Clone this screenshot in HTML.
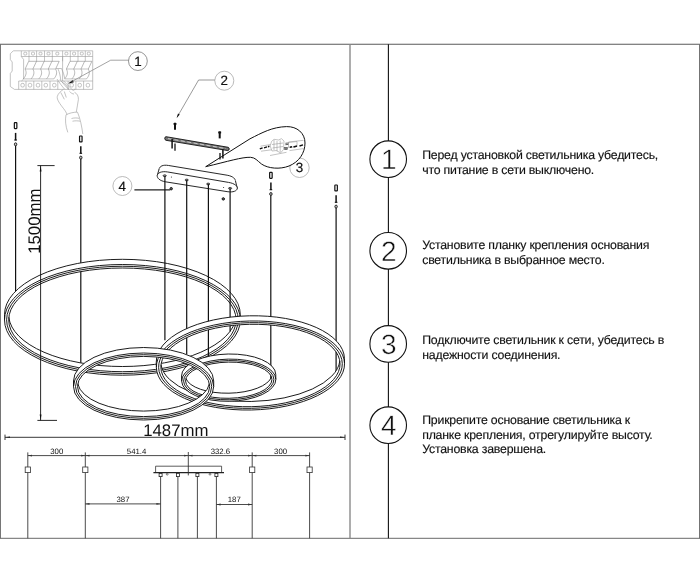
<!DOCTYPE html>
<html lang="ru"><head><meta charset="utf-8"><title>Инструкция по установке светильника</title>
<style>
html,body{margin:0;padding:0;background:#fff;}
body{width:700px;height:583px;overflow:hidden;position:relative;font-family:"Liberation Sans", sans-serif;}
svg{position:absolute;left:0;top:0;display:block;}
text{font-family:"Liberation Sans", sans-serif;text-rendering:geometricPrecision;}
svg{opacity:0.999;will-change:transform;}
.k{stroke:#111;fill:none;}
.g{stroke:#9a9a9a;fill:none;stroke-width:0.6;}
.dim{stroke:#2a2a2a;fill:none;stroke-width:0.85;}
.ring{stroke:#111;stroke-width:0.95;fill:none;}
.wire{stroke:#111;stroke-width:1.2;fill:none;}
.step{font-size:12.3px;fill:#111;letter-spacing:-0.2px;stroke:#111;stroke-width:0.15px;}
.num{font-size:28px;fill:#111;text-anchor:middle;stroke:#fff;stroke-width:0.5px;}
.cn{font-size:13.4px;fill:#111;text-anchor:middle;stroke:#111;stroke-width:0.2px;}
.d{font-size:7.8px;fill:#111;text-anchor:middle;}
.big{font-size:16.8px;fill:#111;}
</style></head><body>
<svg width="700" height="583" viewBox="0 0 700 583">
<rect x="0" y="0" width="700" height="583" fill="#fff"/>
<g id="frame">
<line x1="0" y1="44.3" x2="700" y2="44.3" stroke="#5a5a5a" stroke-width="1.1"/>
<line x1="0" y1="538.3" x2="700" y2="538.3" stroke="#6a6a6a" stroke-width="1"/>
<line x1="0.4" y1="44.3" x2="0.4" y2="538.3" stroke="#666" stroke-width="1"/>
<line x1="699.6" y1="44.3" x2="699.6" y2="538.3" stroke="#666" stroke-width="1"/>
<line x1="350" y1="44.3" x2="350" y2="538.3" stroke="#8a8a8a" stroke-width="1.4"/>
<line x1="388.4" y1="44.3" x2="388.4" y2="538.3" stroke="#111" stroke-width="1.1"/>
</g>
<g id="steps">
<circle cx="388.2" cy="159.2" r="18.3" fill="#fff" stroke="#111" stroke-width="1.1"/>
<text class="num" x="388.9" y="168.9">1</text>
<text class="step" x="422.2" y="158.90">Перед установкой светильника убедитесь,</text>
<text class="step" x="422.2" y="173.62">что питание в сети выключено.</text>
<circle cx="388.2" cy="250.8" r="18.3" fill="#fff" stroke="#111" stroke-width="1.1"/>
<text class="num" x="388.9" y="260.5">2</text>
<text class="step" x="422.2" y="248.80">Установите планку крепления основания</text>
<text class="step" x="422.2" y="263.52">светильника в выбранное место.</text>
<circle cx="388.2" cy="343.9" r="18.3" fill="#fff" stroke="#111" stroke-width="1.1"/>
<text class="num" x="388.9" y="353.6">3</text>
<text class="step" x="422.2" y="343.80">Подключите светильник к сети, убедитесь в</text>
<text class="step" x="422.2" y="358.52">надежности соединения.</text>
<circle cx="388.2" cy="425.2" r="18.3" fill="#fff" stroke="#111" stroke-width="1.1"/>
<text class="num" x="388.9" y="434.9">4</text>
<text class="step" x="422.2" y="423.80">Прикрепите основание светильника к</text>
<text class="step" x="422.2" y="438.52">планке крепления, отрегулируйте высоту.</text>
<text class="step" x="422.2" y="453.24">Установка завершена.</text>
</g>
<g id="callouts">
<circle cx="137.9" cy="61.1" r="9.4" fill="#fff" stroke="#666" stroke-width="0.7"/>
<text class="cn" x="137.9" y="65.6">1</text>
<path d="M128.500 60.200H110.700L69.500 82.800" stroke="#666" stroke-width="0.600" fill="none"/>
<path d="M68 83.700L72.500 79.900L73.900 82.200Z" fill="#111"/>
<circle cx="224.3" cy="80.7" r="9.500" fill="#fff" stroke="#aaa" stroke-width="0.800"/>
<text class="cn" x="224.3" y="85.2">2</text>
<path d="M214.8 80H198.6L177.2 117" stroke="#555" stroke-width="0.6" fill="none"/>
<path d="M176.6 118.2L178 113.6L179.7 114.6Z" fill="#111"/>
<circle cx="299.5" cy="167.8" r="9.700" fill="#fff" stroke="#aaa" stroke-width="0.800"/>
<text class="cn" x="299.5" y="172.3">3</text>
<circle cx="122.400" cy="186" r="9.500" fill="#fff" stroke="#aaa" stroke-width="0.800"/>
<text class="cn" x="122.300" y="190.800">4</text>
<line x1="134.400" y1="189.900" x2="170.200" y2="189.900" stroke="#222" stroke-width="1.100"/>
</g>
<g id="bubble">
<path d="M205.7 166.7 L250 138.8 C262 132.8 272 127 286.6 126.6 C297 126.4 305 133 305 143 C305 153 299 162 289 166 C280 169.6 268 168.6 261.5 164 C257 160.6 255.5 157.6 250.5 157.3 C242 157 228 161.4 205.7 166.7Z" fill="#fff" stroke="#111" stroke-width="1"/>
<g class="g" stroke="#aaa">
<path d="M260.500 146.200L270.500 144.500M261 151.200L271.500 149.800M288.500 142L303.500 140.300M289.500 150.600L303.500 148.600M270 155.500L286.500 152.300"/>
<path d="M271.500 141.500L274 139.300L278.500 140L281.500 138.700L284 141L283.500 149.500L280.500 153L276.500 150.500L272 151L270.200 146Z"/>
<path d="M274 140v10M277 141v10.500M280.200 140.500v11.500M272 144.500l11-1.500M272.500 148l10.500-1.500"/>
<path d="M288.500 142.500l8.500-1v5l-8.500 1z"/>
</g>
<path d="M259.800 148.900L262.600 147.900M264 147.800L267 146.800M267.900 146.700L269.400 146.300M289.800 147.300L292 146.800M293.500 147L297 146M299.500 146L303 144.900" stroke="#111" stroke-width="1.400" fill="none"/>
<path d="M285.400 143.300L288.600 143M285.400 144.700L288.300 144.400" stroke="#333" stroke-width="0.800" fill="none"/>
<rect x="284.600" y="147.300" width="2.800" height="2.400" fill="#777" stroke="#444" stroke-width="0.500"/>
</g>
<g id="bar">
<path d="M166 136.700L228.200 147.300C229.600 147.700 229.600 150.400 227.900 150.600L166 140.300C164.300 139.900 164.300 136.800 166 136.700Z" fill="#777" stroke="#111" stroke-width="0.900"/>
<path d="M168 138.600L226 148.600" stroke="#eee" stroke-width="0.700" stroke-dasharray="4 2.500"/>
<line x1="172.1" y1="139.0" x2="172.1" y2="148.6" stroke="#111" stroke-width="1.5"/>
<line x1="175.0" y1="143.6" x2="175.0" y2="150.8" stroke="#111" stroke-width="1.3"/>
<line x1="222.9" y1="149.0" x2="222.9" y2="158.6" stroke="#111" stroke-width="1.5"/>
<line x1="220.0" y1="152.9" x2="220.0" y2="159.4" stroke="#111" stroke-width="1.3"/>
<line x1="175.0" y1="122.8" x2="175.0" y2="129.8" stroke="#111" stroke-width="2"/>
<line x1="175.0" y1="123.0" x2="175.0" y2="124.8" stroke="#111" stroke-width="2.900"/>
<line x1="219.7" y1="131.4" x2="219.7" y2="138.4" stroke="#111" stroke-width="2"/>
<line x1="219.7" y1="131.6" x2="219.7" y2="133.4" stroke="#111" stroke-width="2.900"/>
</g>
<g id="canopy">
<path d="M168.500 165.470L227.200 175.230C238.950 177.180 237.650 186.490 225.900 184.540L167.200 174.860C155.850 172.960 157.150 163.570 168.500 165.470Z" fill="#fff" stroke="#111" stroke-width="0.9"/>
<path d="M159.300 168.300L157.300 175.200L237.300 189L235.500 180.600Z" fill="#fff" stroke="none"/>
<path d="M159.250 168.600L157.250 175.400M235.450 180.800L237.350 188.600" fill="none" stroke="#111" stroke-width="0.9"/>
<path d="M167.500 171.950L228.500 182.400C241.100 184.400 239.700 193.640 227.100 191.640L165.800 181.860C153.300 179.860 155 169.950 167.500 171.950Z" fill="#fff" stroke="#111" stroke-width="0.9"/>
<ellipse cx="164.7" cy="175.7" rx="1.6" ry="0.9" fill="#999" stroke="#111" stroke-width="0.7"/>
<ellipse cx="186.7" cy="180.0" rx="1.6" ry="0.9" fill="#999" stroke="#111" stroke-width="0.7"/>
<ellipse cx="208.2" cy="184.0" rx="1.6" ry="0.9" fill="#999" stroke="#111" stroke-width="0.7"/>
<ellipse cx="230.1" cy="188.3" rx="1.6" ry="0.9" fill="#999" stroke="#111" stroke-width="0.7"/>
<circle cx="171.4" cy="177.0" r="0.5" fill="#111"/>
<circle cx="223.6" cy="187.4" r="0.5" fill="#111"/>
<circle cx="171.2" cy="188.7" r="1.200" fill="#666" stroke="#111" stroke-width="1"/>
<circle cx="223.3" cy="198.9" r="1.200" fill="#666" stroke="#111" stroke-width="1"/>
</g>
<g id="pendant">
<rect x="14.35" y="122.70" width="2.500" height="5.900" rx="0.500" fill="#fff" stroke="#111" stroke-width="1.200"/>
<line x1="15.60" y1="132.90" x2="15.60" y2="140.30" stroke="#111" stroke-width="1.500"/>
<line x1="14.30" y1="140.00" x2="16.90" y2="140.00" stroke="#111" stroke-width="1.100"/>
<ellipse cx="15.60" cy="144.30" rx="1.200" ry="1.500" fill="#ccc" stroke="#111" stroke-width="0.900"/>
<rect x="79.55" y="136.00" width="2.500" height="5.900" rx="0.500" fill="#fff" stroke="#111" stroke-width="1.200"/>
<line x1="80.80" y1="146.20" x2="80.80" y2="153.60" stroke="#111" stroke-width="1.500"/>
<line x1="79.50" y1="153.30" x2="82.10" y2="153.30" stroke="#111" stroke-width="1.100"/>
<ellipse cx="80.80" cy="157.60" rx="1.200" ry="1.500" fill="#ccc" stroke="#111" stroke-width="0.900"/>
<rect x="269.65" y="172.40" width="2.500" height="5.900" rx="0.500" fill="#fff" stroke="#111" stroke-width="1.200"/>
<line x1="270.90" y1="182.60" x2="270.90" y2="190.00" stroke="#111" stroke-width="1.500"/>
<line x1="269.60" y1="189.70" x2="272.20" y2="189.70" stroke="#111" stroke-width="1.100"/>
<ellipse cx="270.90" cy="194.00" rx="1.200" ry="1.500" fill="#ccc" stroke="#111" stroke-width="0.900"/>
<rect x="334.85" y="185.00" width="2.500" height="5.900" rx="0.500" fill="#fff" stroke="#111" stroke-width="1.200"/>
<line x1="336.10" y1="195.20" x2="336.10" y2="202.60" stroke="#111" stroke-width="1.500"/>
<line x1="334.80" y1="202.30" x2="337.40" y2="202.30" stroke="#111" stroke-width="1.100"/>
<ellipse cx="336.10" cy="206.60" rx="1.200" ry="1.500" fill="#ccc" stroke="#111" stroke-width="0.900"/>
<line class="wire" x1="15.60" y1="145.80" x2="15.60" y2="291.50"/>
<line class="wire" x1="80.80" y1="159.10" x2="80.80" y2="363.50"/>
<g id="ring1">
<path d="M4.50 319.85V314.65A117.90 55.35 0 0 1 240.30 314.65V319.85A117.90 55.35 0 0 1 4.50 319.85ZM8.84 317.25A113.70 51.85 0 0 1 235.96 317.25A113.70 51.85 0 0 1 8.84 317.25Z" fill="#fff" fill-rule="evenodd" stroke="none"/>
<path class="ring" d="M4.50 319.85V314.65A117.90 55.35 0 0 1 240.30 314.65V319.85A117.90 55.35 0 0 1 4.50 319.85Z"/>
<path class="ring" d="M4.50 319.85A117.90 55.35 0 0 1 240.30 319.85"/>
<ellipse class="ring" cx="122.40" cy="319.85" rx="115.80" ry="53.60"/>
<ellipse class="ring" cx="122.40" cy="319.85" rx="113.70" ry="51.85"/>
<path class="ring" d="M235.96 317.25A113.70 51.85 0 0 1 8.84 317.25"/>
</g>
<line class="wire" x1="186.70" y1="180.30" x2="186.70" y2="354.50"/>
<line class="wire" x1="208.40" y1="184.30" x2="208.40" y2="356.20"/>
<line class="wire" x1="230.10" y1="188.60" x2="230.10" y2="331.50"/>
<line class="wire" x1="270.80" y1="195.50" x2="270.80" y2="380.50"/>
<line class="wire" x1="336.10" y1="208.10" x2="336.10" y2="372.00"/>
<g id="ring2" transform="rotate(-1.20 250.40 362.90)">
<path d="M156.30 365.50V360.30A94.10 44.50 0 0 1 344.50 360.30V365.50A94.10 44.50 0 0 1 156.30 365.50ZM160.98 362.90A89.60 41.20 0 0 1 339.82 362.90A89.60 41.20 0 0 1 160.98 362.90Z" fill="#fff" fill-rule="evenodd" stroke="none"/>
<path class="ring" d="M156.30 365.50V360.30A94.10 44.50 0 0 1 344.50 360.30V365.50A94.10 44.50 0 0 1 156.30 365.50Z"/>
<path class="ring" d="M156.30 365.50A94.10 44.50 0 0 1 344.50 365.50"/>
<ellipse class="ring" cx="250.40" cy="365.50" rx="91.85" ry="42.85"/>
<ellipse class="ring" cx="250.40" cy="365.50" rx="89.60" ry="41.20"/>
<path class="ring" d="M339.82 362.90A89.60 41.20 0 0 1 160.98 362.90"/>
</g>
<line class="wire" x1="164.90" y1="176.00" x2="164.90" y2="340.20"/>
<g id="ring4" transform="rotate(-1.10 228.70 377.65)">
<path d="M181.60 380.20V375.10A47.10 21.10 0 0 1 275.80 375.10V380.20A47.10 21.10 0 0 1 181.60 380.20ZM185.93 377.65A43.20 18.10 0 0 1 271.47 377.65A43.20 18.10 0 0 1 185.93 377.65Z" fill="#fff" fill-rule="evenodd" stroke="none"/>
<path class="ring" d="M181.60 380.20V375.10A47.10 21.10 0 0 1 275.80 375.10V380.20A47.10 21.10 0 0 1 181.60 380.20Z"/>
<path class="ring" d="M181.60 380.20A47.10 21.10 0 0 1 275.80 380.20"/>
<ellipse class="ring" cx="228.70" cy="380.20" rx="45.15" ry="19.60"/>
<ellipse class="ring" cx="228.70" cy="380.20" rx="43.20" ry="18.10"/>
<path class="ring" d="M271.47 377.65A43.20 18.10 0 0 1 185.93 377.65"/>
</g>
<g id="ring3">
<path d="M73.50 386.50V381.00A70.10 33.50 0 0 1 213.70 381.00V386.50A70.10 33.50 0 0 1 73.50 386.50ZM77.78 383.75A66.10 30.10 0 0 1 209.42 383.75A66.10 30.10 0 0 1 77.78 383.75Z" fill="#fff" fill-rule="evenodd" stroke="none"/>
<path class="ring" d="M73.50 386.50V381.00A70.10 33.50 0 0 1 213.70 381.00V386.50A70.10 33.50 0 0 1 73.50 386.50Z"/>
<path class="ring" d="M73.50 386.50A70.10 33.50 0 0 1 213.70 386.50"/>
<ellipse class="ring" cx="143.60" cy="386.50" rx="68.10" ry="31.80"/>
<ellipse class="ring" cx="143.60" cy="386.50" rx="66.10" ry="30.10"/>
<path class="ring" d="M209.42 383.75A66.10 30.10 0 0 1 77.78 383.75"/>
</g>
</g>
<g id="dim1500">
<line x1="40.600" y1="165.600" x2="40.600" y2="420.400" stroke="#111" stroke-width="0.9"/>
<line x1="37.4" y1="165.6" x2="54.6" y2="165.6" stroke="#111" stroke-width="0.9"/>
<line x1="37.4" y1="420.4" x2="57" y2="420.4" stroke="#111" stroke-width="0.9"/>
<path d="M40.600 165.800L39.700 171.500L41.500 171.500Z" fill="#111"/>
<path d="M40.600 420.200L39.700 414.500L41.500 414.500Z" fill="#111"/>
<text class="big" transform="translate(39.800 253.800) rotate(-90)">1500mm</text>
</g>
<g id="dim1487">
<line x1="5" y1="437.3" x2="345" y2="437.3" stroke="#222" stroke-width="0.9"/>
<line x1="5" y1="434.6" x2="5" y2="440" stroke="#222" stroke-width="0.9"/>
<line x1="345" y1="434.6" x2="345" y2="440" stroke="#222" stroke-width="0.9"/>
<path d="M5.2 437.3L10 436.5L10 438.1Z" fill="#222"/>
<path d="M344.8 437.3L340 436.5L340 438.1Z" fill="#222"/>
<text class="big" x="143.2" y="435.6">1487mm</text>
</g>
<g id="elev">
<line class="dim" x1="27.8" y1="452.4" x2="27.8" y2="538.3"/>
<rect x="25.2" y="467" width="5.2" height="5.6" fill="#fff" stroke="#333" stroke-width="0.8"/>
<line class="dim" x1="85.3" y1="452.4" x2="85.3" y2="538.3"/>
<rect x="82.7" y="467" width="5.2" height="5.6" fill="#fff" stroke="#333" stroke-width="0.8"/>
<line class="dim" x1="252.2" y1="452.4" x2="252.2" y2="538.3"/>
<rect x="249.6" y="467" width="5.2" height="5.6" fill="#fff" stroke="#333" stroke-width="0.8"/>
<line class="dim" x1="309.6" y1="452.4" x2="309.6" y2="538.3"/>
<rect x="307.0" y="467" width="5.2" height="5.6" fill="#fff" stroke="#333" stroke-width="0.8"/>
<line class="dim" x1="27.8" y1="455.6" x2="85.3" y2="455.6"/>
<path d="M27.8 455.6l4.2 -0.9v1.8z" fill="#333"/>
<path d="M85.3 455.6l-4.2 -0.9v1.8z" fill="#333"/>
<line class="dim" x1="85.3" y1="455.6" x2="188.3" y2="455.6"/>
<path d="M85.3 455.6l4.2 -0.9v1.8z" fill="#333"/>
<path d="M188.3 455.6l-4.2 -0.9v1.8z" fill="#333"/>
<line class="dim" x1="188.3" y1="455.6" x2="252.2" y2="455.6"/>
<path d="M188.3 455.6l4.2 -0.9v1.8z" fill="#333"/>
<path d="M252.2 455.6l-4.2 -0.9v1.8z" fill="#333"/>
<line class="dim" x1="252.2" y1="455.6" x2="309.6" y2="455.6"/>
<path d="M252.2 455.6l4.2 -0.9v1.8z" fill="#333"/>
<path d="M309.6 455.6l-4.2 -0.9v1.8z" fill="#333"/>
<line class="dim" x1="85.3" y1="503.9" x2="160.6" y2="503.9"/>
<path d="M85.3 503.9l4.2 -0.9v1.8z" fill="#333"/>
<path d="M160.6 503.9l-4.2 -0.9v1.8z" fill="#333"/>
<line class="dim" x1="216.4" y1="504.5" x2="252.2" y2="504.5"/>
<path d="M216.4 504.5l4.2 -0.9v1.8z" fill="#333"/>
<path d="M252.2 504.5l-4.2 -0.9v1.8z" fill="#333"/>
<text class="d" x="56.8" y="453.6">300</text>
<text class="d" x="136.6" y="453.6">541.4</text>
<text class="d" x="220.4" y="453.6">332.6</text>
<text class="d" x="280.6" y="453.6">300</text>
<text class="d" x="123" y="501.8">387</text>
<text class="d" x="234.3" y="502.3">187</text>
<path d="M155.6 472.3V466.2H221.6V472.3" fill="#fff" stroke="#333" stroke-width="0.8"/>
<line x1="153.4" y1="472.6" x2="224" y2="472.6" stroke="#222" stroke-width="1.3"/>
<rect x="159.1" y="473.4" width="3" height="3.2" fill="#fff" stroke="#222" stroke-width="0.8"/>
<line class="dim" x1="160.6" y1="476.6" x2="160.6" y2="538.3" stroke-width="0.9"/>
<rect x="176.4" y="473.4" width="3" height="3.2" fill="#fff" stroke="#222" stroke-width="0.8"/>
<line class="dim" x1="177.9" y1="476.6" x2="177.9" y2="538.3" stroke-width="0.9"/>
<rect x="195.9" y="473.4" width="3" height="3.2" fill="#fff" stroke="#222" stroke-width="0.8"/>
<line class="dim" x1="197.4" y1="476.6" x2="197.4" y2="538.3" stroke-width="0.9"/>
<rect x="214.9" y="473.4" width="3" height="3.2" fill="#fff" stroke="#222" stroke-width="0.8"/>
<line class="dim" x1="216.4" y1="476.6" x2="216.4" y2="538.3" stroke-width="0.9"/>
<line class="dim" x1="188.3" y1="452" x2="188.3" y2="475.4"/>
<circle cx="167.2" cy="474.2" r="0.9" fill="#fff" stroke="#222" stroke-width="0.6"/>
<circle cx="210.0" cy="474.2" r="0.9" fill="#fff" stroke="#222" stroke-width="0.6"/>
</g>
<g id="panel" class="g">
<path d="M21.3 50.8H92.700V89.4H14.500L10.300 86.500V73.500L12.200 71V62L10.300 59.500V53.800L13.300 50.8H21.300"/>
<path d="M21.300 50.8V56.500H92.700"/>
<line x1="29.0" y1="50.8" x2="29.0" y2="56.500"/>
<line x1="36.6" y1="50.8" x2="36.6" y2="56.500"/>
<line x1="44.5" y1="50.8" x2="44.5" y2="56.500"/>
<line x1="52.3" y1="50.8" x2="52.3" y2="56.500"/>
<line x1="62.6" y1="50.8" x2="62.6" y2="56.500"/>
<line x1="70.3" y1="50.8" x2="70.3" y2="56.500"/>
<line x1="78.0" y1="50.8" x2="78.0" y2="56.500"/>
<line x1="85.3" y1="50.8" x2="85.3" y2="56.500"/>
<rect x="23.8" y="52.200" width="3" height="2.800" rx="0.900"/>
<rect x="31.5" y="52.200" width="3" height="2.800" rx="0.900"/>
<rect x="39.0" y="52.200" width="3" height="2.800" rx="0.900"/>
<rect x="47.0" y="52.200" width="3" height="2.800" rx="0.900"/>
<rect x="55.8" y="52.200" width="3" height="2.800" rx="0.900"/>
<rect x="64.9" y="52.200" width="3" height="2.800" rx="0.900"/>
<rect x="72.6" y="52.200" width="3" height="2.800" rx="0.900"/>
<rect x="80.3" y="52.200" width="3" height="2.800" rx="0.900"/>
<rect x="87.3" y="52.200" width="3" height="2.800" rx="0.900"/>
<path d="M18.700 89.4V81H92.700"/>
<line x1="26.0" y1="81" x2="26.0" y2="89.4"/>
<line x1="33.8" y1="81" x2="33.8" y2="89.4"/>
<line x1="41.8" y1="81" x2="41.8" y2="89.4"/>
<line x1="50.0" y1="81" x2="50.0" y2="89.4"/>
<line x1="57.8" y1="81" x2="57.8" y2="89.4"/>
<line x1="68.1" y1="81" x2="68.1" y2="89.4"/>
<line x1="75.9" y1="81" x2="75.9" y2="89.4"/>
<line x1="83.6" y1="81" x2="83.6" y2="89.4"/>
<rect x="20.9" y="83.400" width="3.400" height="3.600" rx="1.300"/>
<rect x="28.3" y="83.400" width="3.400" height="3.600" rx="1.300"/>
<rect x="36.3" y="83.400" width="3.400" height="3.600" rx="1.300"/>
<rect x="44.1" y="83.400" width="3.400" height="3.600" rx="1.300"/>
<rect x="52.6" y="83.400" width="3.400" height="3.600" rx="1.300"/>
<rect x="70.0" y="83.400" width="3.400" height="3.600" rx="1.300"/>
<rect x="78.0" y="83.400" width="3.400" height="3.600" rx="1.300"/>
<rect x="86.2" y="83.400" width="3.400" height="3.600" rx="1.300"/>
<line x1="29.0" y1="56.500" x2="29.0" y2="61.300"/>
<line x1="36.6" y1="56.500" x2="36.6" y2="61.300"/>
<line x1="44.5" y1="56.500" x2="44.5" y2="61.300"/>
<line x1="52.3" y1="56.500" x2="52.3" y2="61.300"/>
<line x1="62.6" y1="56.500" x2="62.6" y2="61.300"/>
<line x1="70.3" y1="56.500" x2="70.3" y2="61.300"/>
<line x1="78.0" y1="56.500" x2="78.0" y2="61.300"/>
<line x1="85.3" y1="56.500" x2="85.3" y2="61.300"/>
<line x1="62.600" y1="56.500" x2="62.600" y2="81"/>
<path d="M21.300 56.500L23.600 59.500V79L21.500 81"/>
<path d="M28.7 61.3L25.1 69.0C26.9 72.5 26.3 75.4 23.3 78.9" stroke="#8a8a8a"/>
<path d="M36.5 61.3L32.9 69.0C34.7 72.5 34.1 75.4 31.1 78.9" stroke="#8a8a8a"/>
<path d="M44.2 61.3L40.6 69.0C42.4 72.5 41.8 75.4 38.8 78.9" stroke="#8a8a8a"/>
<path d="M51.9 61.3L48.3 69.0C50.1 72.5 49.5 75.4 46.5 78.9" stroke="#8a8a8a"/>
<path d="M59.2 61.3L55.6 69.0C57.4 72.5 56.8 75.4 53.8 78.9" stroke="#8a8a8a"/>
<line x1="28.7" y1="61.3" x2="59.2" y2="61.3" stroke="#8a8a8a"/>
<line x1="25.1" y1="69.0" x2="55.6" y2="69.0"/>
<line x1="23.3" y1="78.9" x2="53.8" y2="78.9"/>
<path d="M70.0 61.3L66.4 69.0C68.2 72.5 67.6 75.4 64.6 78.9" stroke="#8a8a8a"/>
<path d="M77.3 61.3L73.7 69.0C75.5 72.5 74.9 75.4 71.9 78.9" stroke="#8a8a8a"/>
<path d="M84.6 61.3L81.0 69.0C82.8 72.5 82.2 75.4 79.2 78.9" stroke="#8a8a8a"/>
<path d="M91.9 61.3L88.3 69.0C90.1 72.5 89.5 75.4 86.5 78.9" stroke="#8a8a8a"/>
<line x1="70.0" y1="61.3" x2="91.9" y2="61.3" stroke="#8a8a8a"/>
<line x1="66.4" y1="69.0" x2="88.3" y2="69.0"/>
<line x1="64.6" y1="78.9" x2="86.5" y2="78.9"/>
<path d="M56 68.500H61.500C63 71.500 64.200 75 64.800 78.500M58 69C59.500 72 60.200 76 60.800 80"/>
<path d="M57 79C59 82 62 86.500 65 89.500M60 79.500C62.500 82.500 66 87 69.300 90.200"/>
<path d="M61.500 81.500L65.500 84.500L69 89M63.500 80.800L72 89.500C73.600 91 75 90.200 74.600 88.800"/>
<path d="M63.500 89.300C61 91 58 93.500 57.300 96.500C56.600 99.500 60 104 63.500 108.500C65.500 111 66.500 113 67 114.500"/>
<path d="M60.800 92.500L64.300 99.300M64.300 91.500L66.300 97.500"/>
<path d="M69.500 91.500C71 93 72.500 94 74 94M74.500 92.300C77 93.500 78.600 96 78.400 99.500C78.100 104 76.600 108 76.300 112"/>
<path d="M66 114.800C69.500 113 74 112 77.500 112.200M66 114.800C65 120 65.500 126 67.800 132.400M77.500 112.200C80 118 81.800 126 82.800 134"/>
<path d="M71.500 118.500C74 117.800 76.500 117.800 79 118.300M72.500 121.200C75 120.700 77.500 120.700 80 121.200"/>
</g>
</svg>
</body></html>
